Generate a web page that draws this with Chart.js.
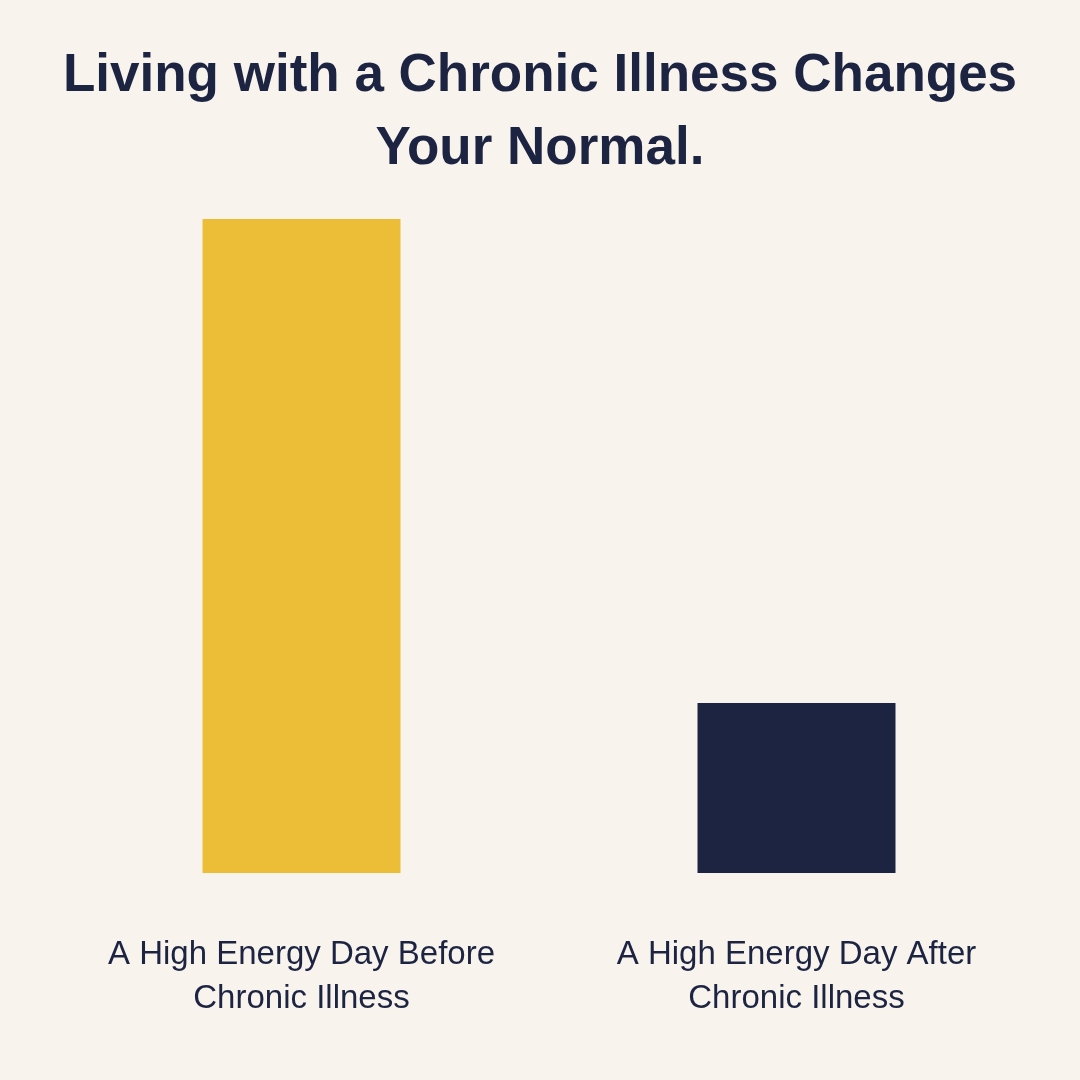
<!DOCTYPE html>
<html>
<head>
<meta charset="utf-8">
<script src="https://cdn.jsdelivr.net/npm/chart.js@4.4.1/dist/chart.umd.min.js"></script>
<style>
    html, body { margin: 0; padding: 0; background: #f8f4ed; }
    #wrap { position: relative; width: 1080px; height: 1080px; }
    h1 {
        position: absolute; left: 0; top: 36px; width: 1080px; margin: 0;
        text-align: center; color: #1c2442;
        font: 700 53px/73px "Liberation Sans", Arial, sans-serif;
    }
    canvas { position: absolute; left: 0; top: 0; }
</style>
</head>
<body>
<div id="wrap">
    <h1>Living with a Chronic Illness Changes<br>Your Normal.</h1>
    <canvas id="chart" width="1080" height="1080"></canvas>
</div>
<script>
const categories = [
    ["A High Energy Day Before", "Chronic Illness"],
    ["A High Energy Day After", "Chronic Illness"]
];
const energyValues = [100, 26];
const barColors = ["#ecbe37", "#1c2442"];

const textColor = "#1c2442";

new Chart(document.getElementById("chart"), {
    type: "bar",
    data: {
        labels: categories,
        datasets: [{
            data: energyValues,
            backgroundColor: barColors,
            borderWidth: 0,
            categoryPercentage: 1,
            barPercentage: 0.4
        }]
    },
    options: {
        responsive: false,
        animation: false,
        layout: { padding: { top: 219, left: 54, right: 36, bottom: -1 } },
        plugins: {
            legend: { display: false },
            tooltip: { enabled: false }
        },
        scales: {
            x: {
                grid: { display: false, drawTicks: false },
                border: { display: false },
                ticks: {
                    color: textColor,
                    padding: 60,
                    maxRotation: 0,
                    font: { family: "Liberation Sans", size: 33, lineHeight: 1.333 }
                }
            },
            y: {
                display: false,
                min: 0,
                max: 100
            }
        }
    }
});
</script>
</body>
</html>
